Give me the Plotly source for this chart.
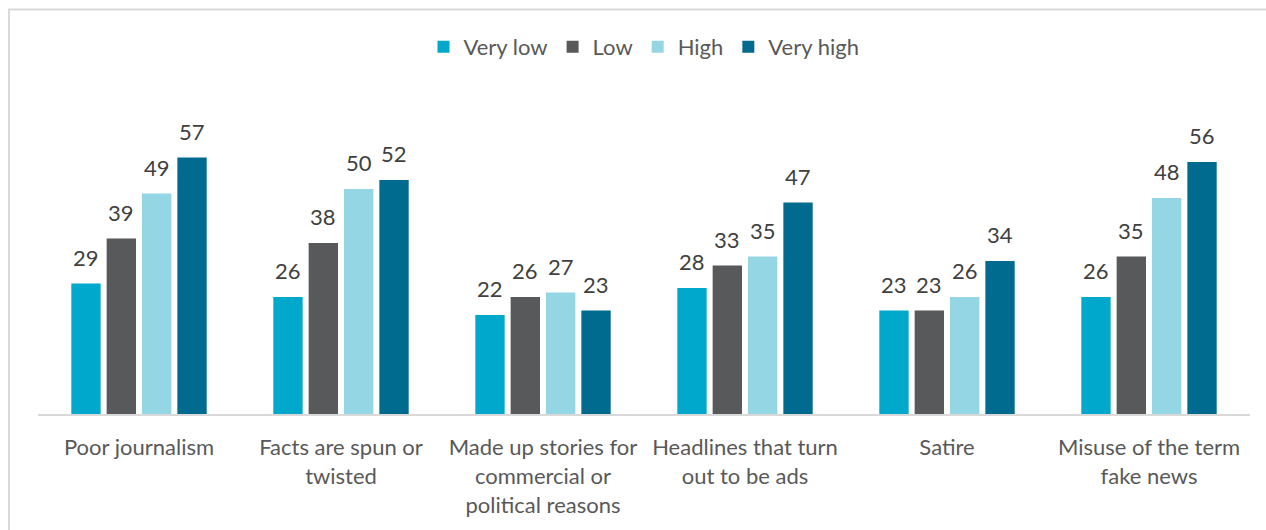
import plotly.graph_objects as go

categories = ["Poor journalism", "Facts are spun or<br>twisted",
              "Made up stories for<br>commercial or<br>political reasons",
              "Headlines that turn<br>out to be ads", "Satire",
              "Misuse of the term<br>fake news"]
series_names = ["Very low", "Low", "High", "Very high"]
very_low = [29, 26, 22, 28, 23, 26]
low = [39, 38, 26, 33, 23, 35]
high = [49, 50, 27, 35, 26, 48]
very_high = [57, 52, 23, 47, 34, 56]
colors = ["#00A8CC", "#58595B", "#94D6E3", "#006B8F"]

series_values = [very_low, low, high, very_high]

W, H = 1266, 530
# plot-area edges in pixels
PL, PR, PT, PB = 38, 1250, 99, 414
ML, MR, MT, MB = PL, W - PR, PT, H - PB
plot_w = W - ML - MR
plot_h = H - MT - MB
bargap = 0.30
slot = plot_w / len(categories) * (1 - bargap) / len(series_names)

FONT = "Lato, Carlito, Calibri, sans-serif"
FS = 22

fig = go.Figure()
annotations = []
for i, (name, vals, col) in enumerate(zip(series_names, series_values, colors)):
    fig.add_trace(go.Bar(x=categories, y=vals, name=name,
                         marker=dict(color=col, line=dict(width=0))))
    for c, v in zip(categories, vals):
        annotations.append(dict(x=c, y=v, xref="x", yref="y", text=str(v),
                                showarrow=False, yanchor="bottom",
                                xshift=(i - 1.5) * slot, yshift=11,
                                font=dict(family=FONT, size=FS, color="#404040")))

def px_x(p):
    return (p - ML) / plot_w

def px_y(p):
    return (H - MB - p) / plot_h

fig.update_layout(
    width=W, height=H,
    margin=dict(l=ML, r=MR, t=MT, b=MB, pad=0, autoexpand=False),
    paper_bgcolor="white", plot_bgcolor="white",
    barmode="group", bargap=bargap, bargroupgap=0.17,
    font=dict(family=FONT, size=FS, color="#595959"),
    showlegend=True,
    legend=dict(orientation="h", x=0.5, xanchor="center", y=px_y(47), yanchor="middle",
                font=dict(family=FONT, size=FS, color="#595959"),
                itemwidth=30, traceorder="normal"),
    xaxis=dict(showline=True, linecolor="#D9D9D9", linewidth=2, ticks="",
               showgrid=False, zeroline=False, automargin=False,
               tickfont=dict(family=FONT, size=FS, color="#595959"),
               ticklabelstandoff=13),
    yaxis=dict(range=[0, 70], visible=False, showgrid=False, zeroline=False,
               automargin=False),
    annotations=annotations,
    shapes=[dict(type="rect", xref="paper", yref="paper",
                 x0=px_x(9), x1=px_x(W + 40), y0=px_y(H + 40), y1=px_y(9.5),
                 line=dict(color="#D9D9D9", width=2), fillcolor="rgba(0,0,0,0)",
                 layer="below")],
)

fig.write_html("out.html",
               config={"displayModeBar": False},
               post_script="document.body.style.margin='0';"
                           "document.body.style.overflow='hidden';"
                           "document.documentElement.style.overflow='hidden';")
